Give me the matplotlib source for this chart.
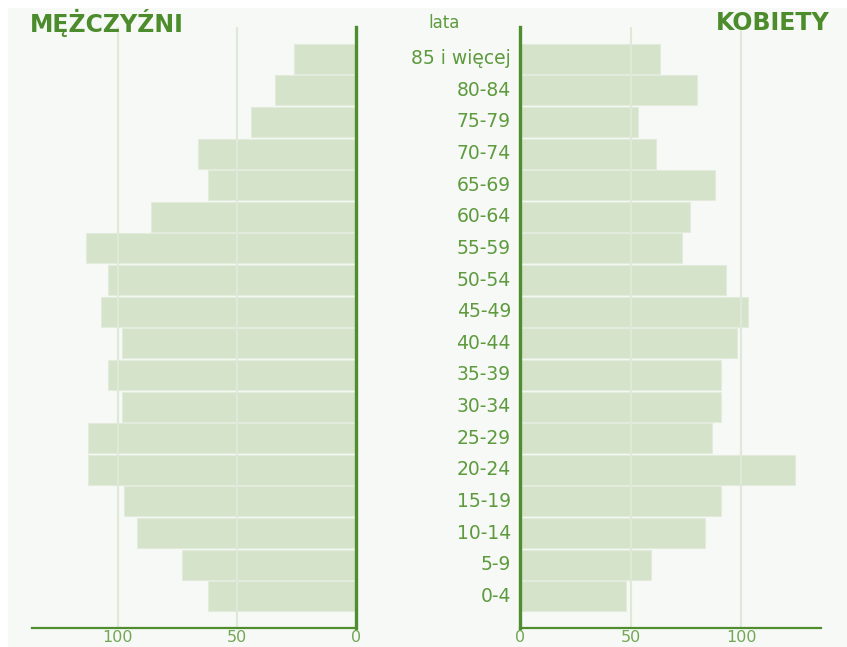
import matplotlib
matplotlib.use("Agg")
import matplotlib.pyplot as plt
from matplotlib.patches import Rectangle
import matplotlib.transforms as mtransforms
import numpy as np

age_groups = ["0-4", "5-9", "10-14", "15-19", "20-24", "25-29", "30-34", "35-39",
              "40-44", "45-49", "50-54", "55-59", "60-64", "65-69", "70-74",
              "75-79", "80-84", "85 i więcej"]
men = [62.3, 72.9, 92.0, 97.5, 112.5, 112.5, 98.3, 104.2, 98.3, 107.1, 104.2,
       113.4, 86.1, 62.3, 66.2, 44.2, 33.9, 26.2]
women = [48.0, 59.0, 83.5, 91.0, 124.3, 86.7, 91.0, 91.0, 98.2, 102.8, 93.0,
         73.0, 76.7, 88.2, 61.3, 53.1, 80.1, 63.1]
ticks = [0, 50, 100]
title_men = "MĘŻCZYŹNI"
title_women = "KOBIETY"
title_age = "lata"

BG = "#f7f9f6"
BAR = "#d6e3cb"
BAR_EDGE = "#e2ebdc"
AXIS = "#4f8d2f"
GRID = "#dfe9d8"
TITLE = "#4c8c2c"
LABEL = "#5e9a3e"
TICK = "#72a753"

W, H = 847, 647
fig = plt.figure(figsize=(W / 100, H / 100), dpi=100, facecolor=BG)
fig.patches.append(Rectangle((0, 1 - 8 / H), 1, 8 / H, transform=fig.transFigure,
                             facecolor="white", edgecolor="none", zorder=-10))
fig.patches.append(Rectangle((0, 0), 8 / W, 1, transform=fig.transFigure,
                             facecolor="white", edgecolor="none", zorder=-10))

bottom = (H - 628) / H
height = (628 - 27) / H
axL = fig.add_axes([32 / W, bottom, 324 / W, height])
axR = fig.add_axes([520 / W, bottom, 301 / W, height])

y = np.arange(len(age_groups))
for ax, vals in ((axL, men), (axR, women)):
    ax.set_facecolor("none")
    ax.barh(y, vals, height=0.95, color=BAR, edgecolor=BAR_EDGE, linewidth=0.8, zorder=2)
    for t in ticks[1:]:
        ax.axvline(t, color=GRID, linewidth=1.6, zorder=3)
    ax.set_ylim(-1, len(age_groups))
    ax.set_yticks([])
    ax.set_xticks(ticks)
    ax.set_xticklabels([str(t) for t in ticks])
    ax.tick_params(axis="x", length=0, pad=1.5, labelsize=11.5, labelcolor=TICK)
    ax.spines["top"].set_visible(False)
    ax.spines["bottom"].set_color(AXIS)
    ax.spines["bottom"].set_linewidth(1.6)
    ax.spines["bottom"].set_zorder(5)

axL.set_xlim(136, 0)
axL.spines["left"].set_visible(False)
axL.spines["right"].set_color(AXIS)
axL.spines["right"].set_linewidth(2.4)
axL.spines["right"].set_zorder(5)

axR.set_xlim(0, 136)
axR.spines["right"].set_visible(False)
axR.spines["left"].set_color(AXIS)
axR.spines["left"].set_linewidth(2.4)
axR.spines["left"].set_zorder(5)

trans = mtransforms.blended_transform_factory(fig.transFigure, axR.transData)
for yi, lab in zip(y, age_groups):
    axR.text(511 / W, yi, lab, transform=trans, ha="right", va="center",
             fontsize=13.5, color=LABEL, clip_on=False)

fig.text(30 / W, 1 - 23 / H, title_men, ha="left", va="center",
         fontsize=17, fontweight="bold", color=TITLE)
fig.text(830 / W, 1 - 23 / H, title_women, ha="right", va="center",
         fontsize=17, fontweight="bold", color=TITLE)
fig.text(444 / W, 1 - 23 / H, title_age, ha="center", va="center",
         fontsize=12, color=LABEL)

fig.savefig("out.png", dpi=100, facecolor=BG)
